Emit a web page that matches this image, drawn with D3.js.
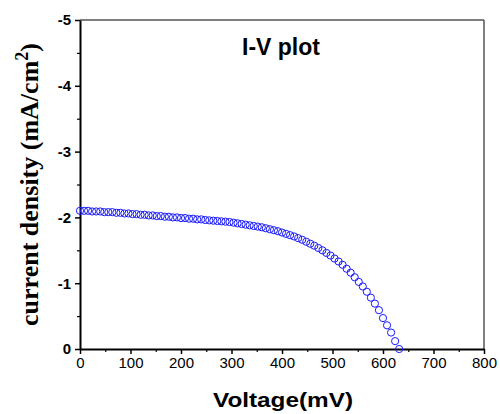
<!DOCTYPE html>
<meta charset="utf-8">
<html>
<head>
  <script src="https://d3js.org/d3.v7.min.js"></script>
  <style>
    body { margin: 0; background: #fff; }
    .tick text { fill: #000; }
  </style>
</head>
<body>
<script type="text/javascript">
  // voltage steps (mV) and measured current density (mA/cm2)
  var voltage = [0, 8, 16, 24, 32, 40, 48, 56, 64, 72, 80, 88, 96, 104, 112, 120, 128, 136, 144, 152,
    160, 168, 176, 184, 192, 200, 208, 216, 224, 232, 240, 248, 256, 264, 272, 280, 288, 296, 304, 312,
    320, 328, 336, 344, 352, 360, 368, 376, 384, 392, 400, 408, 416, 424, 432, 440, 448, 456, 464, 472,
    480, 488, 496, 504, 512, 520, 528, 536, 544, 552, 560, 568, 576, 584, 592, 600, 608, 616, 624, 632];
  var current = [-2.10, -2.10, -2.10, -2.09, -2.09, -2.09, -2.08, -2.08, -2.08, -2.07, -2.07, -2.06, -2.06, -2.05, -2.05, -2.04, -2.04, -2.03, -2.03, -2.02,
    -2.02, -2.01, -2.01, -2.00, -2.00, -1.99, -1.99, -1.98, -1.98, -1.97, -1.97, -1.96, -1.955, -1.95, -1.945, -1.94, -1.935, -1.93, -1.92, -1.91,
    -1.90, -1.89, -1.88, -1.87, -1.86, -1.85, -1.835, -1.82, -1.805, -1.79, -1.77, -1.75, -1.73, -1.71, -1.685, -1.66, -1.63, -1.60, -1.57, -1.535,
    -1.50, -1.46, -1.42, -1.375, -1.33, -1.28, -1.22, -1.16, -1.09, -1.02, -0.95, -0.87, -0.78, -0.69, -0.59, -0.47, -0.36, -0.25, -0.12, 0.00];

  var xTicks = [0, 100, 200, 300, 400, 500, 600, 700, 800];
  var yTicks = [0, -1, -2, -3, -4, -5];

  var width = 500, height = 414;
  var pLeft = 80, pRight = 484, pTop = 20, pBottom = 349;

  var svg = d3.select("body").append("svg")
      .attr("width", width)
      .attr("height", height);

  var x = d3.scaleLinear().domain([0, 800]).range([pLeft, pRight]);
  var y = d3.scaleLinear().domain([0, -5]).range([pBottom, pTop]);

  // top and right frame lines
  svg.append("line").attr("x1", pLeft).attr("x2", pRight).attr("y1", pTop).attr("y2", pTop)
      .style("stroke", "#555").style("stroke-width", 1.5);
  svg.append("line").attr("x1", pRight).attr("x2", pRight).attr("y1", pTop).attr("y2", pBottom)
      .style("stroke", "#555").style("stroke-width", 1.5);

  // minor ticks first so the major axis draws over them
  svg.append("g")
      .attr("transform", "translate(0," + pBottom + ")")
      .call(d3.axisBottom(x).tickValues(d3.range(50, 800, 100)).tickSize(3).tickFormat(""))
      .call(function (g) { g.select(".domain").remove(); })
      .selectAll("line").style("stroke", "#000").style("stroke-width", 1.2);
  svg.append("g")
      .attr("transform", "translate(" + pLeft + ",0)")
      .call(d3.axisLeft(y).tickValues([-0.5, -1.5, -2.5, -3.5, -4.5]).tickSize(3).tickFormat(""))
      .call(function (g) { g.select(".domain").remove(); })
      .selectAll("line").style("stroke", "#000").style("stroke-width", 1.2);

  // x axis
  var xAxis = svg.append("g")
      .attr("transform", "translate(0," + pBottom + ")")
      .call(d3.axisBottom(x).tickValues(xTicks).tickSize(5).tickSizeOuter(0).tickPadding(3));
  xAxis.select(".domain").style("stroke", "#000").style("stroke-width", 2);
  xAxis.selectAll("line").style("stroke", "#000").style("stroke-width", 1.5);
  xAxis.selectAll("text")
      .style("font-family", "'Liberation Sans', Arial, sans-serif")
      .style("font-size", "15px");

  // y axis
  var yAxis = svg.append("g")
      .attr("transform", "translate(" + pLeft + ",0)")
      .call(d3.axisLeft(y).tickValues(yTicks).tickSize(5).tickSizeOuter(0).tickPadding(4));
  yAxis.select(".domain").style("stroke", "#000").style("stroke-width", 2);
  yAxis.selectAll("line").style("stroke", "#000").style("stroke-width", 1.5);
  yAxis.selectAll("text")
      .style("font-family", "'Liberation Sans', Arial, sans-serif")
      .style("font-size", "15px")
      .style("font-weight", "bold")
      .text(function (d) { return d === 0 ? "0" : "-" + Math.abs(d); });

  // data points
  svg.append("g").selectAll("circle")
      .data(voltage)
      .enter()
      .append("circle")
      .attr("cx", function (d) { return x(d); })
      .attr("cy", function (d, i) { return y(current[i]); })
      .attr("r", 3.6)
      .style("fill", "none")
      .style("stroke", "#1a1aff")
      .style("stroke-width", 1);

  // chart title inside the plot
  svg.append("text")
      .attr("x", 281)
      .attr("y", 55)
      .attr("text-anchor", "middle")
      .style("font-family", "'Liberation Sans', Arial, sans-serif")
      .style("font-size", "23px")
      .style("font-weight", "bold")
      .text("I-V plot");

  // x axis title
  svg.append("text")
      .attr("x", 283)
      .attr("y", 407)
      .attr("text-anchor", "middle")
      .attr("textLength", 140)
      .attr("lengthAdjust", "spacingAndGlyphs")
      .style("font-family", "'Liberation Sans', Arial, sans-serif")
      .style("font-size", "20px")
      .style("font-weight", "bold")
      .text("Voltage(mV)");

  // y axis title (serif, with superscript)
  var yt = svg.append("text")
      .attr("transform", "translate(38," + ((pTop + pBottom) / 2) + ") rotate(-90)")
      .attr("text-anchor", "middle")
      .style("font-family", "'Liberation Serif', 'Times New Roman', serif")
      .style("font-size", "26px")
      .style("font-weight", "bold");
  yt.append("tspan").text("current density (mA/cm");
  yt.append("tspan").attr("dy", -10).style("font-size", "18px").text("2");
  yt.append("tspan").attr("dy", 10).text(")");
</script>
</body>
</html>
